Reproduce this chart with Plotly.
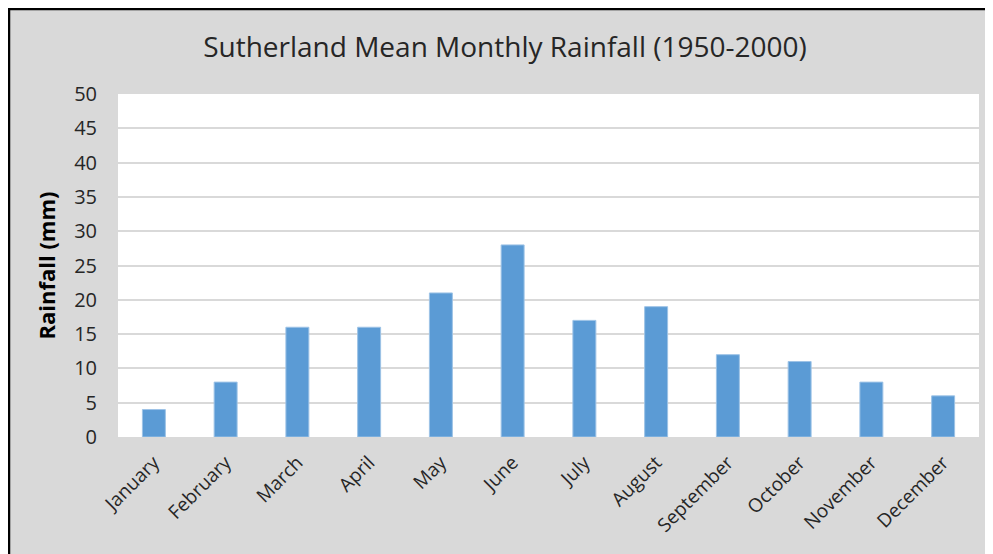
import plotly.graph_objects as go

months = ["January", "February", "March", "April", "May", "June", "July",
          "August", "September", "October", "November", "December"]
rainfall = [4, 8, 16, 16, 21, 28, 17, 19, 12, 11, 8, 6]
y_ticks = [0, 5, 10, 15, 20, 25, 30, 35, 40, 45, 50]

# page has an 8px body margin; figure coordinates = reference - 8
W, H = 985, 546
ML, MR, MT, MB = 110, 14, 86, 117
PW, PH = W - ML - MR, H - MT - MB

def px(x):
    return (x - ML) / PW

def py(y):
    return (H - MB - y) / PH

fig = go.Figure(go.Bar(
    x=months, y=rainfall,
    marker=dict(color="#5b9bd5", line=dict(color="#9dc3e6", width=1)),
))

shapes = [
    dict(type="line", xref="paper", yref="paper", x0=px(0), x1=px(W + 5), y0=py(1), y1=py(1),
         line=dict(color="black", width=2.5), layer="above"),
    dict(type="line", xref="paper", yref="paper", x0=px(1), x1=px(1), y0=py(0), y1=py(H + 5),
         line=dict(color="black", width=2.5), layer="above"),
]

fig.update_layout(
    width=W, height=H,
    margin=dict(l=ML, r=MR, t=MT, b=MB, pad=0),
    paper_bgcolor="#d9d9d9",
    plot_bgcolor="white",
    font=dict(family="Open Sans", color="#262626"),
    title=dict(text="Sutherland Mean Monthly Rainfall (1950-2000)", xref="container", x=497 / W,
               xanchor="center", yref="container", y=1 - 39 / H, yanchor="middle",
               font=dict(size=28, color="#262626")),
    bargap=0.68,
    showlegend=False,
    shapes=shapes,
)
fig.update_yaxes(range=[0, 50], tickvals=y_ticks, showgrid=True, gridcolor="#d9d9d9", gridwidth=2,
                 zeroline=False, showline=False, ticks="outside", ticklen=16,
                 tickcolor="rgba(0,0,0,0)",
                 tickfont=dict(size=20, color="#262626"),
                 title=dict(text="<b>Rainfall (mm)</b>", font=dict(size=22, color="#000000"), standoff=12))
fig.update_xaxes(tickangle=-45, showline=True, linecolor="#d9d9d9", linewidth=2,
                 ticks="outside", ticklen=5, tickcolor="rgba(0,0,0,0)",
                 tickfont=dict(size=19, color="#262626"))

fig.write_html("out.html")
